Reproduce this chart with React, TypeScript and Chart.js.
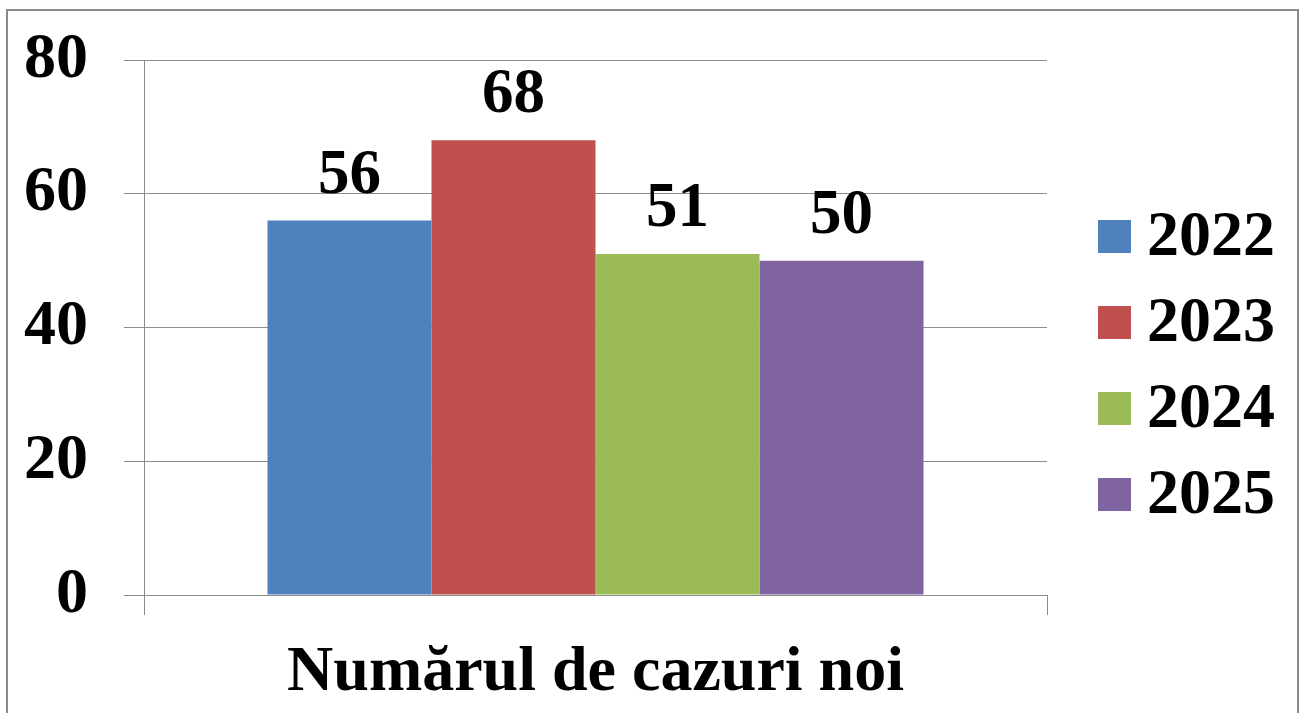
import React, { useEffect, useRef } from "react";
import { Chart, registerables } from "chart.js";

Chart.register(...registerables);

const categories = ["Numărul de cazuri noi"];
const seriesLabels = ["2022", "2023", "2024", "2025"];
const seriesValues = [56, 68, 51, 50];
const seriesColors = ["#4F81BD", "#C0504D", "#9BBB59", "#8064A2"];
const yTicks = [0, 20, 40, 60, 80];

const FONT_FAMILY = "'Liberation Serif', 'Times New Roman', serif";
const GRID = "#8c8c8c";

const valueLabels = {
  id: "valueLabels",
  afterDatasetsDraw(chart: any) {
    const ctx = chart.ctx;
    ctx.save();
    ctx.font = `bold 63px ${FONT_FAMILY}`;
    ctx.fillStyle = "#000";
    ctx.textAlign = "center";
    ctx.textBaseline = "alphabetic";
    chart.data.datasets.forEach((ds: any, i: number) => {
      const meta = chart.getDatasetMeta(i);
      meta.data.forEach((el: any, j: number) => {
        ctx.fillText(String(ds.data[j]), el.x, el.y - 28);
      });
    });
    ctx.restore();
  },
};

const sideLegend = {
  id: "sideLegend",
  afterDraw(chart: any) {
    const ctx = chart.ctx;
    const area = chart.chartArea;
    const n = chart.data.datasets.length;
    const spacing = 86;
    const centerY = (area.top + area.bottom) / 2 + 38;
    const boxX = area.right + 51;
    const box = 33;
    ctx.save();
    ctx.font = `bold 64px ${FONT_FAMILY}`;
    ctx.textAlign = "left";
    ctx.textBaseline = "middle";
    chart.data.datasets.forEach((ds: any, i: number) => {
      const cy = centerY + (i - (n - 1) / 2) * spacing;
      ctx.fillStyle = ds.backgroundColor;
      ctx.fillRect(boxX, cy - box / 2, box, box);
      ctx.fillStyle = "#000";
      ctx.fillText(ds.label, boxX + box + 16, cy + 2);
    });
    ctx.restore();
  },
};

export default function App() {
  const ref = useRef<HTMLCanvasElement | null>(null);

  useEffect(() => {
    if (!ref.current) return;
    const chart = new Chart(ref.current, {
      type: "bar",
      data: {
        labels: categories,
        datasets: seriesLabels.map((label, i) => ({
          label,
          data: [seriesValues[i]],
          backgroundColor: seriesColors[i],
          borderWidth: 0,
          categoryPercentage: 0.7265,
          barPercentage: 1,
        })),
      },
      options: {
        responsive: false,
        animation: false,
        devicePixelRatio: 1,
        layout: { padding: { top: 60, right: 257, bottom: 0, left: 0 } },
        plugins: {
          legend: { display: false },
          tooltip: { enabled: false },
          title: { display: false },
        },
        scales: {
          x: {
            offset: true,
            grid: {
              display: true,
              drawOnChartArea: false,
              drawTicks: true,
              tickLength: 20,
              color: GRID,
              tickColor: GRID,
              offset: true,
            },
            border: { display: true, color: GRID },
            ticks: {
              color: "#000",
              padding: 20,
              font: { family: FONT_FAMILY, size: 64, weight: "bold" },
            },
            afterFit(scale: any) {
              scale.height = 118;
              scale.paddingLeft = 0;
              scale.paddingRight = 0;
            },
          },
          y: {
            min: 0,
            max: 80,
            afterBuildTicks(scale: any) {
              scale.ticks = yTicks.map((v) => ({ value: v }));
            },
            grid: {
              color: GRID,
              tickColor: GRID,
              tickLength: 20,
              drawTicks: true,
            },
            border: { display: true, color: GRID },
            ticks: {
              color: "#000",
              padding: 36,
              font: { family: FONT_FAMILY, size: 64, weight: "bold" },
            },
            afterFit(scale: any) {
              scale.width = 144;
              scale.paddingTop = 0;
              scale.paddingBottom = 0;
            },
          },
        },
      },
      plugins: [valueLabels, sideLegend],
    });
    return () => chart.destroy();
  }, []);

  return (
    <>
      <div
        style={{
          position: "fixed",
          left: 6,
          top: 9,
          width: 1293,
          height: 730,
          boxSizing: "border-box",
          border: "2px solid #8a8a8a",
        }}
      />
      <canvas
        ref={ref}
        width={1304}
        height={713}
        style={{ position: "fixed", left: 0, top: 0, width: 1304, height: 713 }}
      />
    </>
  );
}
